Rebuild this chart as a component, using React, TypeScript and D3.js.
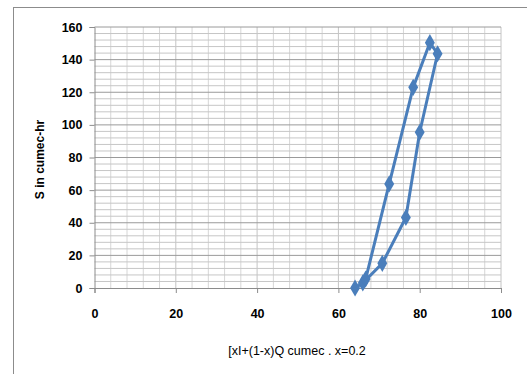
import { useEffect, useRef } from "react";
import * as d3 from "d3";

// weighted flow [xI+(1-x)Q] and storage S, in plotting order
const weightedFlow = [64.1, 66.0, 70.8, 76.6, 80.0, 84.4, 82.5, 78.4, 72.5, 66.7];
const storage = [0, 3.1, 15.1, 43.2, 95.5, 143.6, 150.4, 123.0, 63.8, 5.5];
const xTicks = [0, 20, 40, 60, 80, 100];
const yTicks = [0, 20, 40, 60, 80, 100, 120, 140, 160];

const App = () => {
  const svgRef = useRef<SVGSVGElement>(null);

  useEffect(() => {
    if (!svgRef.current) return;
    const width = 527;
    const height = 374;
    const svg = d3.select(svgRef.current);
    svg.selectAll("*").remove();

    const left = 94.5;
    const right = 501;
    const top = 27;
    const bottom = 288;
    const font = "'Liberation Sans', Arial, sans-serif";

    // outer chart frame
    svg
      .append("rect")
      .attr("x", 13.5)
      .attr("y", 7.5)
      .attr("width", width)
      .attr("height", height)
      .attr("fill", "white")
      .attr("stroke", "#8c8c8c")
      .attr("stroke-width", 1);

    const x = d3.scaleLinear().domain([0, 100]).range([left, right]);
    const y = d3.scaleLinear().domain([0, 160]).range([bottom, top]);

    const grid = svg.append("g");
    // vertical gridlines every 4
    d3.range(4, 101, 4).forEach((v) => {
      grid
        .append("line")
        .attr("x1", x(v))
        .attr("x2", x(v))
        .attr("y1", top)
        .attr("y2", bottom)
        .attr("stroke", v % 20 === 0 ? "#c4c4c4" : "#d6d6d6")
        .attr("stroke-width", 1);
    });
    // horizontal gridlines every 4
    d3.range(4, 161, 4).forEach((v) => {
      grid
        .append("line")
        .attr("x1", left)
        .attr("x2", right)
        .attr("y1", y(v))
        .attr("y2", y(v))
        .attr("stroke", v % 20 === 0 ? "#9a9a9a" : "#c6c6c6")
        .attr("stroke-width", 1);
    });

    const yAxis = d3.axisLeft(y).tickValues(yTicks).tickSize(5).tickPadding(7);
    const yAxisGroup = svg.append("g").attr("transform", `translate(${left},0)`).call(yAxis);
    const xAxis = d3.axisBottom(x).tickValues(xTicks).tickSize(5).tickPadding(16);
    const xAxisGroup = svg.append("g").attr("transform", `translate(0,${bottom})`).call(xAxis);

    [yAxisGroup, xAxisGroup].forEach((g) => {
      g.select(".domain").attr("stroke", "#8c8c8c");
      g.selectAll(".tick line").attr("stroke", "#8c8c8c");
      g.selectAll(".tick text")
        .attr("fill", "#000")
        .style("font-family", font)
        .style("font-size", "12.5px")
        .style("font-weight", "bold");
    });

    const pts = weightedFlow.map((w, i) => [x(w), y(storage[i])] as [number, number]);
    const blue = "#4a7ebb";

    svg
      .append("path")
      .attr("d", d3.line()(pts))
      .attr("fill", "none")
      .attr("stroke", blue)
      .attr("stroke-width", 3)
      .attr("stroke-linejoin", "round");

    const diamond = d3.symbol(d3.symbolDiamond, 85);
    svg
      .append("g")
      .selectAll("path")
      .data(pts)
      .join("path")
      .attr("d", diamond)
      .attr("transform", (d) => `translate(${d[0]},${d[1]})`)
      .attr("fill", blue);

    svg
      .append("text")
      .attr("transform", `translate(44,${(top + bottom) / 2 + 2}) rotate(-90)`)
      .attr("text-anchor", "middle")
      .style("font-family", font)
      .style("font-size", "12px")
      .style("font-weight", "bold")
      .text("S in cumec-hr");

    svg
      .append("text")
      .attr("x", 297)
      .attr("y", 355)
      .attr("text-anchor", "middle")
      .style("font-family", font)
      .style("font-size", "12.5px")
      .text("[xI+(1-x)Q cumec . x=0.2");
  }, []);

  return (
    <svg
      ref={svgRef}
      width={527}
      height={374}
      style={{ position: "absolute", left: 0, top: 0, background: "white" }}
    ></svg>
  );
};

export default App;
